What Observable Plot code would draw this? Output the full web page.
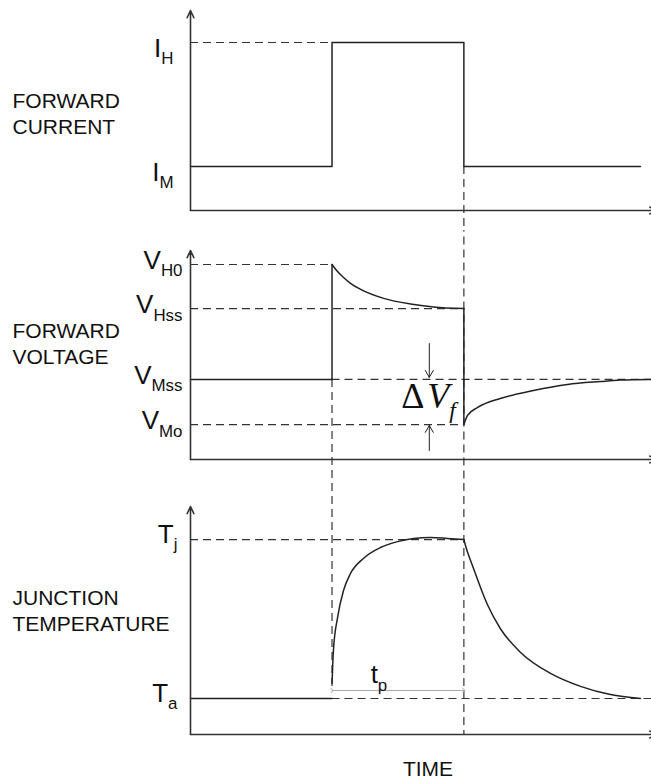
<!DOCTYPE html>
<html>
<head>
<meta charset="utf-8">
<script src="https://cdn.jsdelivr.net/npm/d3@7"></script>
<script src="https://cdn.jsdelivr.net/npm/@observablehq/plot@0.6"></script>
<style>
  html, body { margin: 0; padding: 0; background: #fff; }
  #chart svg { display: block; }
</style>
</head>
<body>
<div id="chart"></div>
<script>
// Shared time axis (arbitrary units): the high-current pulse starts and ends here
const pulseTimes = [30.7, 59.3];
const timeEnd = 100;

// Forward current
const currentLabels = ["I_H", "I_M"];
const currentLevels = [0.84, 0.22];
const currentTime  = [0, 30.7, 30.7, 59.3, 59.3, 97.6];
const currentValue = [0.22, 0.22, 0.84, 0.84, 0.22, 0.22];

// Forward voltage (pieces are drawn separately so the steps stay sharp)
const voltageLabels = ["V_H0", "V_Hss", "V_Mss", "V_Mo"];
const voltageLevels = [0.933, 0.722, 0.383, 0.167];
const voltagePiece = [0, 0, 1, 1, 2, 2, 2, 2, 2, 2, 2, 2, 2, 3, 3, 4, 4, 4, 4, 4, 4, 4, 4, 4];
const voltageTime  = [0, 30.7, 30.7, 30.7, 30.7, 31.7, 33.2, 34.7, 36.9, 41.9, 47.7, 52.7, 59.3, 59.3, 59.3,
                      59.3, 60.1, 62.3, 67.2, 74.4, 81.8, 88.9, 93.3, 100];
const voltageValue = [0.383, 0.383, 0.383, 0.933, 0.933, 0.904, 0.871, 0.843, 0.814, 0.771, 0.744, 0.730, 0.722, 0.722, 0.167,
                      0.167, 0.211, 0.249, 0.292, 0.330, 0.359, 0.373, 0.380, 0.383];
const deltaVLabel = "ΔV_f";

// Junction temperature
const tempLabels = ["T_j", "T_a"];
const tempLevels = [0.855, 0.158];
const tempPiece = [0, 0, 1, 1, 1, 1, 1, 1, 1, 1, 1, 1, 1, 1, 2, 2, 2, 2, 2, 2, 2, 2, 2, 2];
const tempTime  = [0, 30.7, 30.7, 31.0, 31.9, 33.2, 34.7, 37.5, 41.2, 44.9, 48.4, 52.1, 55.7, 59.3,
                   59.3, 59.65, 61.4, 64.4, 67.2, 71.6, 78.1, 84.6, 91.1, 97.6];
const tempValue = [0.158, 0.158, 0.224, 0.368, 0.513, 0.632, 0.706, 0.772, 0.820, 0.846, 0.860, 0.864, 0.860, 0.855,
                   0.855, 0.829, 0.728, 0.570, 0.465, 0.360, 0.268, 0.211, 0.175, 0.158];
const pulseLabel = "t_p";
const pulseArrowLevel = 0.193;

const panelNames = ["FORWARD\nCURRENT", "FORWARD\nVOLTAGE", "JUNCTION\nTEMPERATURE"];
const timeLabel = "TIME";

// ---------------------------------------------------------------------------
const SANS = "'Liberation Sans', Arial, Helvetica, sans-serif";
const SERIF = "'Liberation Serif', 'Times New Roman', 'DejaVu Serif', serif";
const INK = "#222";
const AXIS = "#333";
const DASH = "8,5";
const [tOn, tOff] = pulseTimes;
const rows = (T, V, P) => T.map((t, i) => ({t, v: V[i], piece: P ? P[i] : 0}));

const axisStyle = {x1: "x1", y1: "y1", x2: "x2", y2: "y2", stroke: AXIS, strokeWidth: 1.6, headAngle: 50, headLength: 7.5};
const dashH = (data) => Plot.ruleY(data, {y: "y", x1: "x1", x2: "x2", stroke: "#333", strokeWidth: 1.2, strokeDasharray: DASH});
const dashV = (data) => Plot.ruleX(data, {x: "x", y1: "y1", y2: "y2", stroke: "#333", strokeWidth: 1.2, strokeDasharray: DASH});

function panel({height, marginTop, marginBottom, name, nameY, labels, levels, labelDx, labelDy, marks}) {
  return Plot.plot({
    width: 651, height, marginLeft: 190, marginRight: 0, marginTop, marginBottom,
    x: {domain: [0, timeEnd], axis: null},
    y: {domain: [0, 1], axis: null},
    style: {fontFamily: SANS, color: INK, background: "#fff", overflow: "hidden"},
    marks: [
      ...marks,
      Plot.arrow([{x1: 0, y1: 0, x2: 0, y2: 1}], axisStyle),
      Plot.arrow([{x1: 0, y1: 0, x2: timeEnd * 1.012, y2: 0}], axisStyle),
      Plot.text([name], {text: (d) => d, frameAnchor: "left", y: () => nameY, dx: -178, textAnchor: "start",
        fontSize: 21, lineHeight: 1.24, fill: "#111"}),
      Plot.text(labels, {text: (d) => d, frameAnchor: "left", y: (d, i) => levels[i], dx: labelDx, dy: labelDy,
        textAnchor: "end", fontSize: 26, fill: "#111"})
    ]
  });
}

// Turn "X_sub" strings into a main part and a lowered, smaller subscript
function subscripts(svg) {
  d3.select(svg).selectAll("text").each(function () {
    const s = this.textContent;
    const k = s.indexOf("_");
    if (k < 0 || this.children.length) return;
    const main = s.slice(0, k), sub = s.slice(k + 1);
    const italic = this.closest("g")?.getAttribute("font-style") === "italic";
    const sel = d3.select(this).text(null);
    for (const part of main.match(/[\u0391-\u03c9]+|[^\u0391-\u03c9]+/g)) {
      const t = sel.append("tspan").text(part);
      if (/[\u0391-\u03c9]/.test(part)) t.attr("font-style", "normal");
      else if (italic) t.attr("dx", "0.08em");
    }
    sel.append("tspan").attr("font-size", "65%").attr("dy", "0.45em").text(sub);
  });
  return svg;
}

const [IH, IM] = currentLevels;
const [VH0, VHss, VMss, VMo] = voltageLevels;
const [Tj, Ta] = tempLevels;

const currentPanel = panel({
  height: 230, marginTop: 10, marginBottom: 20,
  name: panelNames[0], nameY: 0.49, labels: currentLabels, levels: currentLevels, labelDx: -17, labelDy: 6,
  marks: [
    dashH([{y: IH, x1: 0, x2: tOn}]),
    dashV([{x: tOff, y1: IM, y2: -0.5}]),
    Plot.line(rows(currentTime, currentValue), {x: "t", y: "v", stroke: INK, strokeWidth: 1.5})
  ]
});

const voltagePanel = panel({
  height: 250, marginTop: 20, marginBottom: 21,
  name: panelNames[1], nameY: 0.558, labels: voltageLabels, levels: voltageLevels, labelDx: -8, labelDy: -4,
  marks: [
    dashH([
      {y: VH0, x1: 0, x2: tOn},
      {y: VHss, x1: 0, x2: tOff},
      {y: VMss, x1: tOn, x2: timeEnd},
      {y: VMo, x1: 0, x2: tOff}
    ]),
    dashV([{x: tOff, y1: 1.5, y2: -0.5}, {x: tOn, y1: VMss, y2: -0.5}]),
    Plot.line(rows(voltageTime, voltageValue, voltagePiece),
      {x: "t", y: "v", z: "piece", curve: "monotone-x", stroke: INK, strokeWidth: 1.5}),
    // ΔVf marker: arrows pointing at the steady and initial measurement levels
    Plot.arrow([{x: 51.8, from: 0.555, to: VMss + 0.01}, {x: 51.8, from: 0.043, to: VMo - 0.004}],
      {x1: "x", y1: "from", x2: "x", y2: "to", stroke: INK, strokeWidth: 1, headLength: 12, headAngle: 60}),
    Plot.text([deltaVLabel], {text: (d) => d, x: () => tOff, y: () => VMo, textAnchor: "end", lineAnchor: "bottom",
      dx: -8, dy: -17, fontFamily: SERIF, fontSize: 36, fontStyle: "italic", fill: "#111"})
  ]
});

const tempPanel = panel({
  height: 298, marginTop: 26, marginBottom: 44,
  name: panelNames[2], nameY: 0.547, labels: tempLabels, levels: tempLevels, labelDx: -13, labelDy: -5,
  marks: [
    dashH([{y: Tj, x1: 0, x2: tOff}, {y: Ta, x1: tOn, x2: timeEnd}]),
    dashV([{x: tOn, y1: 1.5, y2: pulseArrowLevel}, {x: tOff, y1: 1.5, y2: 0}]),
    Plot.line(rows(tempTime, tempValue, tempPiece),
      {x: "t", y: "v", z: "piece", curve: "monotone-x", stroke: INK, strokeWidth: 1.5}),
    Plot.link([{x1: tOn, x2: tOff, y: pulseArrowLevel}],
      {x1: "x1", x2: "x2", y1: "y", y2: "y", stroke: "#aaa", strokeWidth: 1, markerStart: "arrow", markerEnd: "arrow"}),
    Plot.text([pulseLabel], {text: (d) => d, x: () => (tOn + tOff) / 2, y: () => pulseArrowLevel,
      lineAnchor: "bottom", dx: -19, dy: -7, fontSize: 26, fill: "#111"}),
    Plot.text([timeLabel], {text: (d) => d, frameAnchor: "bottom", lineAnchor: "bottom", dx: 7, dy: 41,
      fontSize: 21, fill: "#111"})
  ]
});

const root = document.getElementById("chart");
for (const svg of [currentPanel, voltagePanel, tempPanel]) root.appendChild(subscripts(svg));
</script>
</body>
</html>
